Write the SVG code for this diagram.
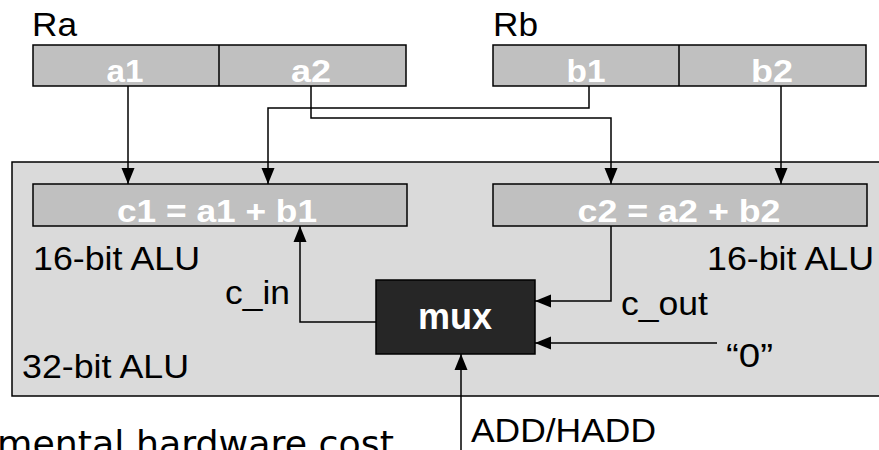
<svg xmlns="http://www.w3.org/2000/svg" width="879" height="450" viewBox="0 0 879 450">
<defs>
<marker id="ah" markerUnits="userSpaceOnUse" markerWidth="16" markerHeight="14" viewBox="0 0 16 13" refX="16" refY="6.5" orient="auto">
<path d="M0,0 L16,6.5 L0,13 Z" fill="#000"/>
</marker>
</defs>
<style>
.reg{fill:#c0c0c0;stroke:#000;stroke-width:1.5}
.lbl{font-family:"Liberation Sans",Arial,sans-serif;font-size:33px;fill:#000}
.wb{font-family:"Liberation Sans",Arial,sans-serif;font-size:32px;font-weight:bold;fill:#ffffff;text-anchor:middle}
.wire{fill:none;stroke:#000;stroke-width:1.5}
</style>
<rect x="0" y="0" width="879" height="450" fill="#fff"/>
<g id="alu32">
<rect x="12" y="162" width="880" height="234" fill="#dadada" stroke="#000" stroke-width="1.5"/>
<text class="lbl" x="22" y="378" textLength="167" lengthAdjust="spacingAndGlyphs">32-bit ALU</text>
</g>
<g id="Ra">
<text class="lbl" x="32" y="36" textLength="45" lengthAdjust="spacingAndGlyphs">Ra</text>
<rect class="reg" x="33" y="45" width="373" height="41"/>
<line x1="219" y1="45" x2="219" y2="86" stroke="#000" stroke-width="1.5"/>
<text class="wb" x="125" y="82" textLength="37" lengthAdjust="spacingAndGlyphs">a1</text>
<text class="wb" x="311" y="82" textLength="40" lengthAdjust="spacingAndGlyphs">a2</text>
</g>
<g id="Rb">
<text class="lbl" x="493" y="36" textLength="45" lengthAdjust="spacingAndGlyphs">Rb</text>
<rect class="reg" x="493" y="45" width="373" height="41"/>
<line x1="679" y1="45" x2="679" y2="86" stroke="#000" stroke-width="1.5"/>
<text class="wb" x="586" y="82" textLength="39" lengthAdjust="spacingAndGlyphs">b1</text>
<text class="wb" x="772" y="82" textLength="42" lengthAdjust="spacingAndGlyphs">b2</text>
</g>
<g id="alu1">
<rect class="reg" x="33" y="184" width="374" height="42"/>
<text class="wb" x="217" y="222" textLength="200" lengthAdjust="spacingAndGlyphs">c1 = a1 + b1</text>
<text class="lbl" x="33" y="270" textLength="167" lengthAdjust="spacingAndGlyphs">16-bit ALU</text>
</g>
<g id="alu2">
<rect class="reg" x="493" y="184" width="374" height="42"/>
<text class="wb" x="679" y="222" textLength="203" lengthAdjust="spacingAndGlyphs">c2 = a2 + b2</text>
<text class="lbl" x="707" y="270" textLength="167" lengthAdjust="spacingAndGlyphs">16-bit ALU</text>
</g>
<g id="mux">
<rect x="376" y="280" width="159" height="74" fill="#262626" stroke="#000" stroke-width="1.5"/>
<text class="wb" x="455" y="329" textLength="74" lengthAdjust="spacingAndGlyphs" style="font-size:36px">mux</text>
</g>
<g id="labels">
<text class="lbl" x="225" y="304" textLength="65" lengthAdjust="spacingAndGlyphs">c_in</text>
<text class="lbl" x="621" y="315" textLength="87" lengthAdjust="spacingAndGlyphs">c_out</text>
<text class="lbl" x="726" y="367" textLength="47" lengthAdjust="spacingAndGlyphs">“0”</text>
<text class="lbl" x="471" y="442" textLength="185" lengthAdjust="spacingAndGlyphs">ADD/HADD</text>
<text x="-3" y="456" font-family="DejaVu Sans, Verdana, sans-serif" font-size="36" textLength="397" lengthAdjust="spacingAndGlyphs" fill="#000">mental hardware cost</text>
</g>
<g id="connectors">
<path class="wire" d="M128,86 V184" marker-end="url(#ah)"/>
<path class="wire" d="M589,86 V108 H268 V184" marker-end="url(#ah)"/>
<path class="wire" d="M311,86 V118 H611 V184" marker-end="url(#ah)"/>
<path class="wire" d="M781,86 V184" marker-end="url(#ah)"/>
<path class="wire" d="M376,322 H300 V226" marker-end="url(#ah)"/>
<path class="wire" d="M611,226 V301 H535" marker-end="url(#ah)"/>
<path class="wire" d="M717,343 H535" marker-end="url(#ah)"/>
<path class="wire" d="M461,450 V354" marker-end="url(#ah)"/>
</g>
</svg>
